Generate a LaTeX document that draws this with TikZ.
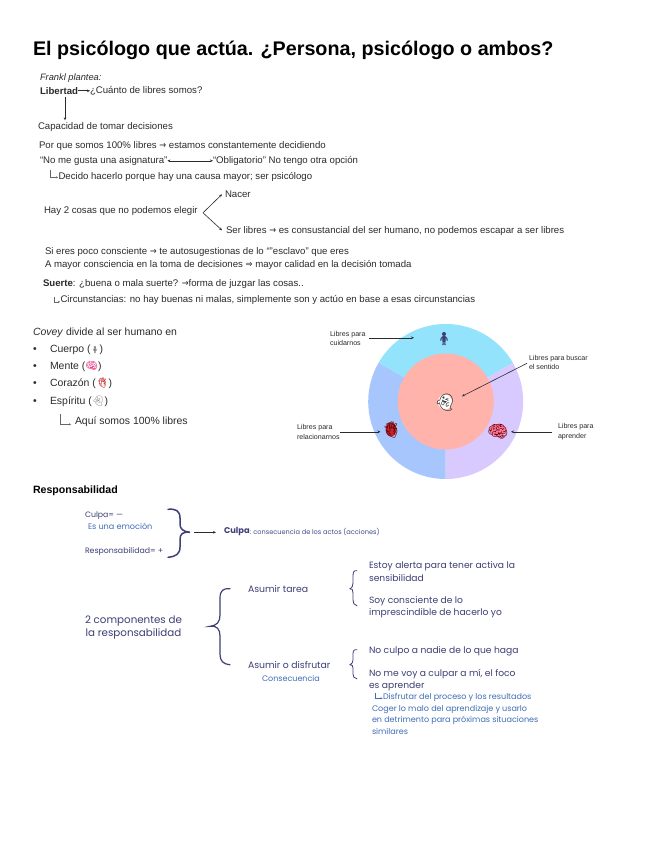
\documentclass[tikz,border=0pt]{standalone}
\usepackage{fontspec}
\setmainfont{Liberation Sans}
\newfontfamily\popp{Poppins}
\newfontfamily\emo{Noto Emoji}
\newfontfamily\djv{DejaVu Sans}
\usetikzlibrary{arrows.meta}
\definecolor{ink}{HTML}{2B2B2B}
\definecolor{navy}{HTML}{3D3F75}
\definecolor{linkblue}{HTML}{3F6DB5}
\definecolor{cyanseg}{HTML}{93E3FD}
\definecolor{purpseg}{HTML}{D8C9FE}
\definecolor{blueseg}{HTML}{A8C6FE}
\definecolor{pinkseg}{HTML}{FFB3AB}
\newcommand{\ra}{{\djv\scalebox{.85}[1]{→}}}
\newcommand{\Ra}{{\djv\scalebox{.85}[1]{⇒}}}
\tikzset{
  x=1pt,y=-1pt,
  every node/.style={inner sep=0pt,outer sep=0pt,yshift=-.8pt},
  txt/.style={anchor=west,text=ink,font=\fontsize{9.63}{11}\selectfont},
  big/.style={anchor=west,text=ink,font=\fontsize{10.45}{12}\selectfont},
  tiny/.style={anchor=west,text=ink,font=\fontsize{7.1}{9.4}\selectfont,align=left},
  pop/.style={anchor=west,text=navy,font=\popp\fontsize{9.15}{12}\selectfont},
  popb/.style={anchor=west,text=linkblue,font=\popp\fontsize{8.05}{11}\selectfont},
  arr/.style={draw=ink,line width=.6pt,-{Stealth[length=3pt,width=2.6pt]}},
  darr/.style={draw=ink,line width=.6pt,{Stealth[length=3pt,width=2.6pt]}-{Stealth[length=3pt,width=2.6pt]}},
  larr/.style={draw=gray!80!black,line width=.5pt,-{Stealth[length=2pt,width=2pt]}},
  brace/.style={draw=navy,line width=1.2pt,line cap=round},
}
\begin{document}
\begin{tikzpicture}
\useasboundingbox[fill=white] (0,0) rectangle (655,848);
% title
\node[anchor=west,text=black,font=\bfseries\fontsize{19.73}{24}\selectfont] (title) at (33,50) {El psicólogo que actúa. ¿Persona, psicólogo o ambos?};
% Frankl
\node[txt,font=\itshape\fontsize{9.3}{11}\selectfont] (frankl) at (40,77) {Frankl plantea:};
\node[txt] (lib) at (40,90) {\textbf{Libertad}};
\node[txt] (cuanto) at (90,90) {¿Cuánto de libres somos?};
\draw[arr] (lib) -- (cuanto);
\node[txt] (cap) at (38,126) {Capacidad de tomar decisiones};
\coordinate (capt) at (65,119.5);
\coordinate (libb) at (65,96);
\draw[arr] (libb) -- (capt);
\node[txt] (por) at (39,145) {Por que somos 100\% libres \ra{} estamos constantemente decidiendo};
\node[txt] (nome) at (40,160) {“No me gusta una asignatura”};
\node[txt] (oblig) at (213,160) {“Obligatorio” No tengo otra opción};
\draw[darr] (nome) -- (oblig);
\coordinate (d1) at (50,169.5); \coordinate (d2) at (58,176.5);
\draw[larr] (d1) |- (d2);
\node[txt] (dec) at (58.5,176) {Decido hacerlo porque hay una causa mayor; ser psicólogo};
\node[txt] (hay) at (44,210) {Hay 2 cosas que no podemos elegir};
\coordinate (fork) at (203,212);
\node[txt] (nacer) at (225,193) {Nacer};
\node[txt] (ser) at (226,230) {Ser libres \ra{} es consustancial del ser humano, no podemos escapar a ser libres};
\coordinate (nacerw) at (222,193.5); \coordinate (serw) at (222,229.5);
\draw[arr] (fork) -- (nacerw);
\draw[arr] (fork) -- (serw);
\node[txt] (si) at (45,251) {Si eres poco consciente \ra{} te autosugestionas de lo “”esclavo” que eres};
\node[txt] (may) at (45,264) {A mayor consciencia en la toma de decisiones \Ra{} mayor calidad en la decisión tomada};
\node[txt] (suerte) at (43,283) {\textbf{Suerte}: ¿buena o mala suerte? \ra{}forma de juzgar las cosas..};
\coordinate (c1) at (54.5,296); \coordinate (c2) at (60,301);
\draw[larr] (c1) |- (c2);
\node[txt] (circ) at (60.5,299) {Circunstancias: no hay buenas ni malas, simplemente son y actúo en base a esas circunstancias};
% Covey
\node[big] (covey) at (33,332) {\textit{Covey} divide al ser humano en};
\node[big] (b1) at (33,349) {•};
\node[big] (b2) at (33,366) {•};
\node[big] (b3) at (33,383) {•};
\node[big] (b4) at (33,401) {•};
\node[big] (cuerpo) at (50,349) {Cuerpo (\textcolor{gray}{\emo\fontsize{7}{7}\selectfont 🧍})};
\node[big] (mente) at (50,366) {Mente (\textcolor{magenta!70!red}{\emo\fontsize{10}{10}\selectfont 🧠})};
\node[big] (cora) at (50,383) {Corazón (\textcolor{red!75!black}{\emo\fontsize{10}{10}\selectfont 🫀})};
\node[big] (esp) at (50,401) {Espíritu (\textcolor{gray}{\emo\fontsize{10}{10}\selectfont 👻})};
\coordinate (a1) at (60,413); \coordinate (a2) at (71,423.5);
\draw[larr] (a1) |- (a2);
\node[big] (aqui) at (75,421) {Aquí somos 100\% libres};
% donut
\coordinate (o) at (445.7,400.7);
\fill[cyanseg] (o) -- +(-67.1,-38.75) arc[start angle=210,end angle=330,radius=77.5] -- cycle;
\fill[purpseg] (o) -- +(67.1,-38.75) arc[start angle=330,end angle=450,radius=77.5] -- cycle;
\fill[blueseg] (o) -- +(0,77.5) arc[start angle=90,end angle=210,radius=77.5] -- cycle;
\fill[pinkseg] (o) circle[radius=48];
% emoji
\fill[red!75!black,opacity=.8] (391,429.5) ellipse[x radius=5.5,y radius=7];
\fill[magenta!35!pink] (498,430) ellipse[x radius=8.2,y radius=6];
\fill[white] (445,402) ellipse[x radius=7,y radius=7.5];
\node[font=\emo\fontsize{13}{13}\selectfont,text=navy] (person) at (444,338) {🧍};
\node[font=\emo\fontsize{17}{17}\selectfont,text=black!80] (ghost) at (445,402) {👻};
\node[font=\emo\fontsize{16}{16}\selectfont,text=red!40!black] (heart) at (391,429.5) {🫀};
\node[font=\emo\fontsize{17}{17}\selectfont,text=red!50!black] (brain) at (498,430.5) {🧠};
% donut labels
\node[tiny] (lc) at (330,337.5) {Libres para\\cuidarnos};
\node[tiny] (ls) at (529,361.5) {Libres para buscar\\el sentido};
\node[tiny] (lr) at (297,431) {Libres para\\relacionarnos};
\node[tiny] (la) at (558,431) {Libres para\\aprender};
\coordinate (lct) at (414,337); \coordinate (lcs) at (369,337);
\coordinate (lst) at (462,395.5); \coordinate (lss) at (527,362.5);
\coordinate (lrt) at (380.5,431); \coordinate (lrs) at (340,431);
\coordinate (lat) at (511,431); \coordinate (las) at (552,431);
\draw[arr] (lcs) -- (lct);
\draw[arr] (lss) -- (lst);
\draw[arr] (lrs) -- (lrt);
\draw[arr] (las) -- (lat);
% Responsabilidad
\node[txt,text=black,font=\fontsize{10.6}{12}\selectfont] (resp) at (33,490) {\textbf{Responsabilidad}};
\node[anchor=west,text=navy,font=\popp\fontsize{7.8}{9}\selectfont] (culpa) at (85,515) {Culpa= —};
\node[anchor=west,text=linkblue,font=\popp\fontsize{8.1}{9}\selectfont] (emoc) at (88,525.5) {Es una emoción};
\node[anchor=west,text=navy,font=\popp\fontsize{7.8}{9}\selectfont] (respm) at (85,551) {Responsabilidad= +};
\coordinate (b1a) at (168,508.5); \coordinate (b1b) at (168,556.5); \coordinate (b1t) at (190,531.5);
\draw[brace,line width=1.5pt] (b1a) .. controls (176,508.5) and (180,511) .. (180,518) -- (180,524) .. controls (180,529) and (183,531.5) .. (b1t)
  .. controls (183,531.5) and (180,534) .. (180,539) -- (180,547) .. controls (180,554) and (176,556.5) .. (b1b);
\coordinate (ar1) at (194,531.5);
\node[anchor=west,text=navy,font=\popp\bfseries\fontsize{8.3}{10}\selectfont] (culpab) at (224,531) {Culpa};
\node[anchor=west,text=navy!70!linkblue,font=\popp\fontsize{6.6}{9}\selectfont,yshift=.8pt] (cons) at (culpab.east) {: consecuencia de los actos (acciones)};
\coordinate (ar2) at (216,531.5);
\draw[arr] (ar1) -- (ar2);
\node[anchor=center,text=navy,align=center,font=\popp\fontsize{10.3}{13}\selectfont] (comp) at (133.5,626.5) {2 componentes de\\la responsabilidad};
\coordinate (b2a) at (230,588); \coordinate (b2b) at (230,664); \coordinate (b2t) at (210,625.5);
\draw[brace] (b2a) .. controls (223,588) and (220,591) .. (220,598) -- (220,615) .. controls (220,622) and (217,625.5) .. (b2t)
  .. controls (217,625.5) and (220,629) .. (220,636) -- (220,654) .. controls (220,661) and (223,664) .. (b2b);
\node[pop,font=\popp\fontsize{9.3}{11}\selectfont] (tarea) at (248,588) {Asumir tarea};
\node[pop,font=\popp\fontsize{9.3}{11}\selectfont] (disf) at (248,664) {Asumir o disfrutar};
\node[popb,font=\popp\fontsize{8}{10}\selectfont] (cons2) at (262,677.5) {Consecuencia};
\tikzset{sb/.style={draw=navy,line width=.8pt,line cap=round}}
\coordinate (s1a) at (357,570); \coordinate (s1b) at (357,605); \coordinate (s1t) at (350,588);
\draw[sb] (s1a) .. controls (354,570) and (353,572) .. (353,576) -- (353,583) .. controls (353,586) and (352,588) .. (s1t)
  .. controls (352,588) and (353,590) .. (353,593) -- (353,600) .. controls (353,603) and (354,605) .. (s1b);
\coordinate (s2a) at (357,649); \coordinate (s2b) at (357,678); \coordinate (s2t) at (350,664);
\draw[sb] (s2a) .. controls (354,649) and (353,651) .. (353,654) -- (353,660) .. controls (353,662) and (352,664) .. (s2t)
  .. controls (352,664) and (353,666) .. (353,668) -- (353,674) .. controls (353,677) and (354,678) .. (s2b);
\node[pop] (e1) at (369,565) {Estoy alerta para tener activa la};
\node[pop] (e2) at (369,577) {sensibilidad};
\node[pop] (e3) at (369,600) {Soy consciente de lo};
\node[pop] (e4) at (369,612) {imprescindible de hacerlo yo};
\node[pop] (e5) at (369,650) {No culpo a nadie de lo que haga};
\node[pop] (e6) at (369,673) {No me voy a culpar a mí, el foco};
\node[pop] (e7) at (369,685) {es aprender};
\coordinate (f1) at (375.5,692.5); \coordinate (f2) at (382.5,697.5);
\draw[draw=linkblue,line width=.5pt,-{Stealth[length=2pt,width=2pt]}] (f1) |- (f2);
\node[popb] (g1) at (383,697) {Disfrutar del proceso y los resultados};
\node[popb] (g2) at (372,709) {Coger lo malo del aprendizaje y usarlo};
\node[popb] (g3) at (372,720) {en detrimento para próximas situaciones};
\node[popb] (g4) at (372,731) {similares};
\end{tikzpicture}
\end{document}
